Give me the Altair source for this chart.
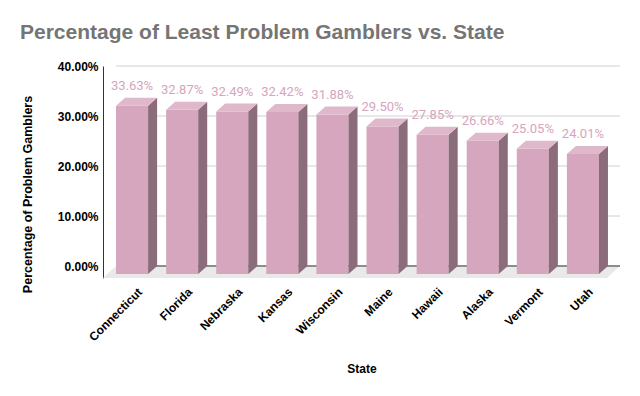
import json
import altair as alt
import pandas as pd

STATES = ["Connecticut", "Florida", "Nebraska", "Kansas", "Wisconsin",
          "Maine", "Hawaii", "Alaska", "Vermont", "Utah"]
VALUES = [33.63, 32.87, 32.49, 32.42, 31.88, 29.50, 27.85, 26.66, 25.05, 24.01]
Y_TICKS = [0, 10, 20, 30, 40]

TITLE = "Percentage of Least Problem Gamblers vs. State"
X_TITLE = "State"
Y_TITLE = "Percentage of Problem Gamblers"

# 3D geometry (band / value units)
BAR_W = 0.64
DX = 0.18
DY = 1.6
FLOOR_X = 0.26
FLOOR_Y = 2.4
RIGHT = 0.06

FRONT = "#d5a6bd"
SIDE = "#8b6c7b"
TOP = "#dfb8cb"

n = len(STATES)
x_min, x_max = -FLOOR_X, n + RIGHT

front = pd.DataFrame({
    "state": STATES,
    "x": [i for i in range(n)],
    "x2": [i + BAR_W for i in range(n)],
    "y": [-DY] * n,
    "y2": [v - DY for v in VALUES],
})

side_rows, top_rows = [], []
for i, (s, v) in enumerate(zip(STATES, VALUES)):
    side_rows += [
        {"state": s, "x": i + BAR_W, "y": -DY, "y2": v - DY},
        {"state": s, "x": i + BAR_W + DX, "y": 0, "y2": v},
    ]
    top_rows += [
        {"state": s, "x": i, "y": v - DY, "y2": v - DY},
        {"state": s, "x": i + DX, "y": v - DY, "y2": v},
        {"state": s, "x": i + BAR_W, "y": v - DY, "y2": v},
        {"state": s, "x": i + BAR_W + DX, "y": v, "y2": v},
    ]
side = pd.DataFrame(side_rows)
top = pd.DataFrame(top_rows)

labels = pd.DataFrame({
    "x": [i + BAR_W / 2 for i in range(n)],
    "y": VALUES,
    "txt": [f"{v:.2f}%" for v in VALUES],
})

floor = pd.DataFrame([
    {"x": x_min, "y": -FLOOR_Y, "y2": -FLOOR_Y},
    {"x": 0, "y": -FLOOR_Y, "y2": 0},
    {"x": x_max - FLOOR_X, "y": -FLOOR_Y, "y2": 0},
    {"x": x_max, "y": 0, "y2": 0},
])

grid = pd.DataFrame({
    "x": [0] * len(Y_TICKS),
    "x2": [x_max] * len(Y_TICKS),
    "y": Y_TICKS,
})
zero = grid[grid["y"] == 0]

label_arr = json.dumps(STATES)
x_axis = alt.Axis(
    values=[i + 0.4 for i in range(n)],
    labelExpr=f"{label_arr}[floor(datum.value)]",
    labelAngle=-45, labelFont="Liberation Sans", labelFontWeight="bold",
    labelFontSize=12, labelColor="#000000", labelPadding=8, labelOverlap=False,
    domain=False, ticks=False, grid=False,
    title=X_TITLE, titleFont="Liberation Sans", titleFontWeight="bold",
    titleFontSize=12, titleColor="#000000", titleBaseline="middle", titleY=90,
)
y_axis = alt.Axis(
    values=Y_TICKS,
    labelExpr="format(datum.value, '.2f') + '%'",
    labelFont="Liberation Sans", labelFontWeight="bold", labelFontSize=12,
    labelColor="#000000", labelPadding=5,
    domain=True, domainColor="#333333", domainWidth=1,
    ticks=False, grid=False,
    title=Y_TITLE, titleFont="Liberation Sans", titleFontWeight="bold",
    titleFontSize=12.5, titleColor="#000000", titleAngle=-90,
    titleAlign="center", titleBaseline="middle", titleX=-76, titleY=128,
)

xs = alt.Scale(domain=[x_min, x_max], nice=False, zero=False)
ys = alt.Scale(domain=[-FLOOR_Y, 40], nice=False, zero=False)


def X(field="x"):
    return alt.X(f"{field}:Q", scale=xs, axis=x_axis, title=X_TITLE)


def Y(field="y"):
    return alt.Y(f"{field}:Q", scale=ys, axis=y_axis, title=Y_TITLE)


grid_layer = alt.Chart(grid).mark_rule(color="#d0d0d0", strokeWidth=1).encode(
    x=X(), x2="x2:Q", y=Y()
)
floor_layer = alt.Chart(floor).mark_area(color="#e9e9e9", orient="vertical").encode(
    x=X(), y=Y(), y2="y2:Q"
)
zero_layer = alt.Chart(zero).mark_rule(color="#333333", strokeWidth=1).encode(
    x=X(), x2="x2:Q", y=Y()
)
front_layer = alt.Chart(front).mark_rect(color=FRONT).encode(
    x=X(), x2="x2:Q", y=Y(), y2="y2:Q"
)

face_layers = []
for s in STATES:
    face_layers.append(
        alt.Chart(side).transform_filter(alt.datum.state == s)
        .mark_area(color=SIDE, orient="vertical")
        .encode(x=X(), y=Y(), y2="y2:Q")
    )
    face_layers.append(
        alt.Chart(top).transform_filter(alt.datum.state == s)
        .mark_area(color=TOP, orient="vertical")
        .encode(x=X(), y=Y(), y2="y2:Q")
    )

text_layer = alt.Chart(labels).mark_text(
    font="Roboto", fontSize=13, color=FRONT, dy=-12, baseline="middle", align="center"
).encode(x=X(), y=Y(), text="txt:N")

chart = alt.layer(
    grid_layer, floor_layer, zero_layer, front_layer, *face_layers, text_layer
).properties(
    width=517, height=212,
    autosize=alt.AutoSizeParams(type="none"),
    padding={"left": 95, "top": 58, "right": 12, "bottom": 110},
    title=alt.TitleParams(
        TITLE, anchor="start", frame="group", dx=-83, dy=-13,
        font="Liberation Sans", fontSize=21, fontWeight="bold", color="#757575",
    ),
).configure_view(stroke=None)

chart.save("out.html", embed_options={"renderer": "svg", "actions": False})
